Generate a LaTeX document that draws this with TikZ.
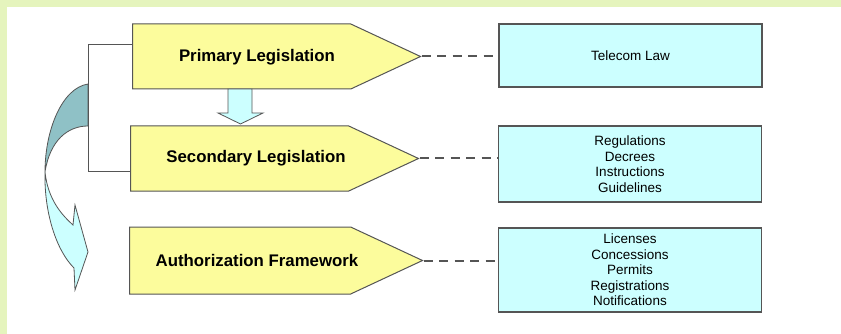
\documentclass[tikz,border=0pt]{standalone}
\usepackage{fontspec}
\setmainfont{Liberation Sans}
\usetikzlibrary{shapes.symbols}

\definecolor{bordergreen}{HTML}{E5F4BD}
\definecolor{legisyellow}{HTML}{FCFC9C}
\definecolor{boxcyan}{HTML}{CCFFFF}
\definecolor{arrowteal}{HTML}{8FC1C6}
\definecolor{edgegray}{HTML}{555555}

\tikzset{
  legis/.style={shape=signal, signal to=east, signal pointer angle=50,
    draw=edgegray, line width=1pt, fill=legisyellow, anchor=west,
    minimum width=288pt, minimum height=65pt, inner sep=0pt},
  legtext/.style={draw=none, font=\fontsize{16.8}{19}\selectfont\bfseries},
  infobox/.style={draw=edgegray, line width=1.3pt, fill=boxcyan,
    minimum width=263pt, inner sep=0pt, align=center,
    font=\fontsize{13.5}{15.5}\selectfont},
  dashlink/.style={draw=edgegray, line width=2pt, dash pattern=on 9pt off 6.5pt},
  bracket/.style={draw=edgegray, line width=1pt}
}

\begin{document}
\begin{tikzpicture}[x=1pt,y=-1pt]

\fill[bordergreen] (0,0) rectangle (841,334); % frame
\fill[white] (7,7.5) rectangle (841,334);
\useasboundingbox (0,0) rectangle (841,334);

% curved arrow on the left
\filldraw[fill=arrowteal, draw=edgegray, line width=0.8pt]
  (88,84) .. controls (62,88) and (45,130) .. (45,172)
  .. controls (50,140) and (68,126) .. (88,126) -- cycle;
\filldraw[fill=boxcyan, draw=edgegray, line width=0.8pt]
  (45,172) .. controls (48,200) and (62,215) .. (73,225)
  -- (75,205) -- (88,252) -- (75,290) -- (74,268)
  .. controls (56,250) and (44,212) .. (45,172) -- cycle;

\node [legis] (prim) at (132,56.5) {};
\node [legis] (sec)  at (130,158.5) {};
\node [legis, minimum width=293pt, minimum height=67pt] (auth) at (129,260.5) {};

\node [legtext] (primtxt) at (257,57)  {Primary Legislation};
\node [legtext] (sectxt)  at (256,158) {Secondary Legislation};
\node [legtext] (authtxt) at (257,260) {Authorization Framework};

\node [infobox, minimum height=63pt] (telecom) at (630.5,55.5) {Telecom Law};
\node [infobox, minimum height=76pt] (regs) at (630,164)
  {Regulations\\Decrees\\Instructions\\Guidelines};
\node [infobox, minimum height=84pt] (lics) at (630,270)
  {Licenses\\Concessions\\Permits\\Registrations\\Notifications};

\draw[dashlink] (prim.east) -- (prim.east -| telecom.west);
\draw[dashlink] (sec.east)  -- (sec.east -| regs.west);
\draw[dashlink] (auth.east) -- (auth.east -| lics.west);

% down arrow between primary and secondary
\filldraw[fill=boxcyan, draw=edgegray, line width=0.8pt]
  (228,89) -- (228,113) -- (218,113) -- (240.5,124) -- (263,113)
  -- (252,113) -- (252,89) -- cycle;

\draw[bracket] ([yshift=12pt]prim.west) -- ++(-44,0) |- ([yshift=-13pt]sec.west); % side bracket

\end{tikzpicture}
\end{document}
